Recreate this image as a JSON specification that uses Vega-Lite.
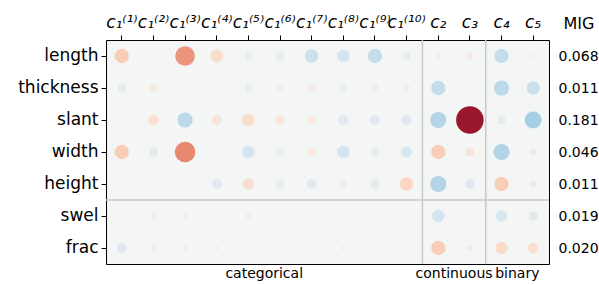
{
  "$schema": "https://vega.github.io/schema/vega-lite/v6.json",
  "autosize": "none",
  "padding": {"left": 106, "top": 40, "right": 50, "bottom": 21},
  "width": 443,
  "height": 224,
  "config": {
    "font": "DejaVu Sans",
    "view": {"stroke": "black", "strokeWidth": 1, "fill": "#f4f6f5"},
    "axis": {"labelColor": "black", "tickColor": "black", "titleColor": "black"}
  },
  "datasets": {
    "cells": [
      {"feature": "length", "col": "c₁⁽¹⁾", "v": 0.256, "m": 0.256},
      {"feature": "length", "col": "c₁⁽³⁾", "v": 0.484, "m": 0.484},
      {"feature": "length", "col": "c₁⁽⁴⁾", "v": 0.196, "m": 0.196},
      {"feature": "length", "col": "c₁⁽⁵⁾", "v": -0.064, "m": 0.064},
      {"feature": "length", "col": "c₁⁽⁶⁾", "v": -0.081, "m": 0.081},
      {"feature": "length", "col": "c₁⁽⁷⁾", "v": -0.225, "m": 0.225},
      {"feature": "length", "col": "c₁⁽⁸⁾", "v": -0.196, "m": 0.196},
      {"feature": "length", "col": "c₁⁽⁹⁾", "v": -0.256, "m": 0.256},
      {"feature": "length", "col": "c₁⁽¹⁰⁾", "v": -0.081, "m": 0.081},
      {"feature": "length", "col": "c₂", "v": 0.025, "m": 0.025},
      {"feature": "length", "col": "c₃", "v": 0.064, "m": 0.064},
      {"feature": "length", "col": "c₄", "v": -0.256, "m": 0.256},
      {"feature": "length", "col": "c₅", "v": -0.025, "m": 0.025},

      {"feature": "thickness", "col": "c₁⁽¹⁾", "v": -0.081, "m": 0.081},
      {"feature": "thickness", "col": "c₁⁽²⁾", "v": 0.081, "m": 0.081},
      {"feature": "thickness", "col": "c₁⁽⁵⁾", "v": -0.064, "m": 0.064},
      {"feature": "thickness", "col": "c₁⁽⁶⁾", "v": -0.049, "m": 0.049},
      {"feature": "thickness", "col": "c₁⁽⁷⁾", "v": 0.064, "m": 0.064},
      {"feature": "thickness", "col": "c₁⁽⁸⁾", "v": -0.064, "m": 0.064},
      {"feature": "thickness", "col": "c₁⁽⁹⁾", "v": 0.049, "m": 0.049},
      {"feature": "thickness", "col": "c₁⁽¹⁰⁾", "v": 0.049, "m": 0.049},
      {"feature": "thickness", "col": "c₂", "v": -0.256, "m": 0.256},
      {"feature": "thickness", "col": "c₄", "v": -0.289, "m": 0.289},
      {"feature": "thickness", "col": "c₅", "v": -0.225, "m": 0.225},

      {"feature": "slant", "col": "c₁⁽¹⁾", "v": -0.016, "m": 0.016},
      {"feature": "slant", "col": "c₁⁽²⁾", "v": 0.144, "m": 0.144},
      {"feature": "slant", "col": "c₁⁽³⁾", "v": -0.289, "m": 0.289},
      {"feature": "slant", "col": "c₁⁽⁴⁾", "v": 0.121, "m": 0.121},
      {"feature": "slant", "col": "c₁⁽⁵⁾", "v": 0.196, "m": 0.196},
      {"feature": "slant", "col": "c₁⁽⁶⁾", "v": 0.1, "m": 0.1},
      {"feature": "slant", "col": "c₁⁽⁷⁾", "v": 0.081, "m": 0.081},
      {"feature": "slant", "col": "c₁⁽⁸⁾", "v": -0.121, "m": 0.121},
      {"feature": "slant", "col": "c₁⁽⁹⁾", "v": -0.121, "m": 0.121},
      {"feature": "slant", "col": "c₁⁽¹⁰⁾", "v": -0.121, "m": 0.121},
      {"feature": "slant", "col": "c₂", "v": -0.32, "m": 0.32},
      {"feature": "slant", "col": "c₃", "v": 0.95, "m": 0.95},
      {"feature": "slant", "col": "c₄", "v": -0.081, "m": 0.081},
      {"feature": "slant", "col": "c₅", "v": -0.361, "m": 0.361},

      {"feature": "width", "col": "c₁⁽¹⁾", "v": 0.256, "m": 0.256},
      {"feature": "width", "col": "c₁⁽²⁾", "v": -0.1, "m": 0.1},
      {"feature": "width", "col": "c₁⁽³⁾", "v": 0.529, "m": 0.529},
      {"feature": "width", "col": "c₁⁽⁴⁾", "v": 0.016, "m": 0.016},
      {"feature": "width", "col": "c₁⁽⁵⁾", "v": -0.196, "m": 0.196},
      {"feature": "width", "col": "c₁⁽⁶⁾", "v": -0.064, "m": 0.064},
      {"feature": "width", "col": "c₁⁽⁷⁾", "v": 0.081, "m": 0.081},
      {"feature": "width", "col": "c₁⁽⁸⁾", "v": -0.196, "m": 0.196},
      {"feature": "width", "col": "c₁⁽⁹⁾", "v": -0.081, "m": 0.081},
      {"feature": "width", "col": "c₁⁽¹⁰⁾", "v": -0.169, "m": 0.169},
      {"feature": "width", "col": "c₂", "v": 0.256, "m": 0.256},
      {"feature": "width", "col": "c₃", "v": 0.1, "m": 0.1},
      {"feature": "width", "col": "c₄", "v": -0.324, "m": 0.324},
      {"feature": "width", "col": "c₅", "v": 0.049, "m": 0.049},

      {"feature": "height", "col": "c₁⁽³⁾", "v": -0.009, "m": 0.009},
      {"feature": "height", "col": "c₁⁽⁴⁾", "v": -0.121, "m": 0.121},
      {"feature": "height", "col": "c₁⁽⁵⁾", "v": 0.169, "m": 0.169},
      {"feature": "height", "col": "c₁⁽⁶⁾", "v": -0.081, "m": 0.081},
      {"feature": "height", "col": "c₁⁽⁷⁾", "v": -0.121, "m": 0.121},
      {"feature": "height", "col": "c₁⁽⁸⁾", "v": 0.049, "m": 0.049},
      {"feature": "height", "col": "c₁⁽⁹⁾", "v": -0.1, "m": 0.1},
      {"feature": "height", "col": "c₁⁽¹⁰⁾", "v": 0.225, "m": 0.225},
      {"feature": "height", "col": "c₂", "v": -0.324, "m": 0.324},
      {"feature": "height", "col": "c₃", "v": -0.121, "m": 0.121},
      {"feature": "height", "col": "c₄", "v": 0.256, "m": 0.256},
      {"feature": "height", "col": "c₅", "v": 0.049, "m": 0.049},

      {"feature": "swel", "col": "c₁⁽¹⁾", "v": 0.009, "m": 0.009},
      {"feature": "swel", "col": "c₁⁽²⁾", "v": 0.049, "m": 0.049},
      {"feature": "swel", "col": "c₁⁽³⁾", "v": 0.036, "m": 0.036},
      {"feature": "swel", "col": "c₁⁽⁵⁾", "v": -0.036, "m": 0.036},
      {"feature": "swel", "col": "c₁⁽⁶⁾", "v": -0.016, "m": 0.016},
      {"feature": "swel", "col": "c₁⁽⁷⁾", "v": 0.025, "m": 0.025},
      {"feature": "swel", "col": "c₁⁽⁸⁾", "v": -0.009, "m": 0.009},
      {"feature": "swel", "col": "c₁⁽¹⁰⁾", "v": -0.009, "m": 0.009},
      {"feature": "swel", "col": "c₂", "v": -0.196, "m": 0.196},
      {"feature": "swel", "col": "c₃", "v": 0.009, "m": 0.009},
      {"feature": "swel", "col": "c₄", "v": -0.169, "m": 0.169},
      {"feature": "swel", "col": "c₅", "v": -0.1, "m": 0.1},

      {"feature": "frac", "col": "c₁⁽¹⁾", "v": -0.121, "m": 0.121},
      {"feature": "frac", "col": "c₁⁽²⁾", "v": -0.036, "m": 0.036},
      {"feature": "frac", "col": "c₁⁽³⁾", "v": 0.036, "m": 0.036},
      {"feature": "frac", "col": "c₁⁽⁴⁾", "v": -0.025, "m": 0.025},
      {"feature": "frac", "col": "c₁⁽⁵⁾", "v": 0.025, "m": 0.025},
      {"feature": "frac", "col": "c₁⁽⁶⁾", "v": 0.025, "m": 0.025},
      {"feature": "frac", "col": "c₁⁽⁷⁾", "v": -0.016, "m": 0.016},
      {"feature": "frac", "col": "c₁⁽⁸⁾", "v": 0.025, "m": 0.025},
      {"feature": "frac", "col": "c₁⁽⁹⁾", "v": -0.016, "m": 0.016},
      {"feature": "frac", "col": "c₁⁽¹⁰⁾", "v": 0.016, "m": 0.016},
      {"feature": "frac", "col": "c₂", "v": 0.256, "m": 0.256},
      {"feature": "frac", "col": "c₃", "v": 0.036, "m": 0.036},
      {"feature": "frac", "col": "c₄", "v": 0.196, "m": 0.196},
      {"feature": "frac", "col": "c₅", "v": 0.144, "m": 0.144}
    ],
    "mig": [
      {"key": "length|0.068"},
      {"key": "thickness|0.011"},
      {"key": "slant|0.181"},
      {"key": "width|0.046"},
      {"key": "height|0.011"},
      {"key": "swel|0.019"},
      {"key": "frac|0.020"}
    ],
    "vsep": [{"col": "c₁⁽¹⁰⁾"}, {"col": "c₃"}],
    "hsep": [{"feature": "height"}],
    "groups": [
      {"group": "categorical", "anchor": "c₁⁽⁵⁾"},
      {"group": "continuous", "anchor": "c₂"},
      {"group": "binary", "anchor": "c₄"}
    ]
  },
  "layer": [
    {
      "layer": [
        {
          "data": {"name": "vsep"},
          "mark": {"type": "rule", "color": "#c8c8c8", "strokeWidth": 1.5},
          "encoding": {
            "x": {"field": "col", "type": "nominal", "bandPosition": 1,
                  "scale": {"domain": ["c₁⁽¹⁾","c₁⁽²⁾","c₁⁽³⁾","c₁⁽⁴⁾","c₁⁽⁵⁾","c₁⁽⁶⁾","c₁⁽⁷⁾","c₁⁽⁸⁾","c₁⁽⁹⁾","c₁⁽¹⁰⁾","c₂","c₃","c₄","c₅"], "paddingInner": 0, "paddingOuter": 0},
                  "axis": {"orient": "top", "title": null, "labelAngle": 0, "labelFontSize": 17, "labelFontStyle": "italic", "tickSize": 5, "labelPadding": 4, "domain": false}}
          }
        },
        {
          "data": {"name": "hsep"},
          "mark": {"type": "rule", "color": "#c8c8c8", "strokeWidth": 1.5},
          "encoding": {
            "y": {"field": "feature", "type": "nominal", "bandPosition": 1,
                  "scale": {"domain": ["length","thickness","slant","width","height","swel","frac"], "paddingInner": 0, "paddingOuter": 0},
                  "axis": {"orient": "left", "title": null, "labelFontSize": 17, "tickSize": 5, "labelPadding": 3, "domain": false}}
          }
        },
        {
          "data": {"name": "cells"},
          "mark": {"type": "circle", "opacity": 1},
          "encoding": {
            "x": {"field": "col", "type": "nominal",
                  "scale": {"domain": ["c₁⁽¹⁾","c₁⁽²⁾","c₁⁽³⁾","c₁⁽⁴⁾","c₁⁽⁵⁾","c₁⁽⁶⁾","c₁⁽⁷⁾","c₁⁽⁸⁾","c₁⁽⁹⁾","c₁⁽¹⁰⁾","c₂","c₃","c₄","c₅"], "paddingInner": 0, "paddingOuter": 0},
                  "axis": {"orient": "top", "title": null, "labelAngle": 0, "labelFontSize": 17, "labelFontStyle": "italic", "tickSize": 5, "labelPadding": 4, "domain": false}},
            "y": {"field": "feature", "type": "nominal",
                  "scale": {"domain": ["length","thickness","slant","width","height","swel","frac"], "paddingInner": 0, "paddingOuter": 0},
                  "axis": {"orient": "left", "title": null, "labelFontSize": 17, "tickSize": 5, "labelPadding": 3, "domain": false}},
            "color": {"field": "v", "type": "quantitative",
                      "scale": {"scheme": "redblue", "reverse": true, "domain": [-1, 1]}, "legend": null},
            "size": {"field": "m", "type": "quantitative",
                     "scale": {"domain": [0, 1], "range": [0, 800]}, "legend": null}
          }
        },
        {
          "data": {"name": "groups"},
          "mark": {"type": "text", "y": "height", "dy": 14, "baseline": "alphabetic", "fontSize": 14, "color": "black"},
          "encoding": {
            "x": {"field": "anchor", "type": "nominal", "bandPosition": 1,
                  "scale": {"domain": ["c₁⁽¹⁾","c₁⁽²⁾","c₁⁽³⁾","c₁⁽⁴⁾","c₁⁽⁵⁾","c₁⁽⁶⁾","c₁⁽⁷⁾","c₁⁽⁸⁾","c₁⁽⁹⁾","c₁⁽¹⁰⁾","c₂","c₃","c₄","c₅"], "paddingInner": 0, "paddingOuter": 0},
                  "axis": {"orient": "top", "title": null, "labelAngle": 0, "labelFontSize": 17, "labelFontStyle": "italic", "tickSize": 5, "labelPadding": 4, "domain": false}},
            "text": {"field": "group"}
          }
        }
      ]
    },
    {
      "data": {"name": "mig"},
      "mark": {"type": "point", "opacity": 0},
      "encoding": {
        "y": {"field": "key", "type": "nominal", "sort": null,
              "scale": {"paddingInner": 0, "paddingOuter": 0},
              "axis": {"orient": "right", "title": "MIG", "titleAngle": 0, "titleAlign": "left", "titleBaseline": "alphabetic",
                       "titleX": 14, "titleY": -12, "titleFontSize": 16, "titleFontWeight": "normal",
                       "labelFontSize": 14, "labelExpr": "split(datum.value, '|')[1]", "ticks": false, "domain": false, "labelPadding": 9}}
      }
    }
  ],
  "resolve": {"scale": {"y": "independent"}}
}
